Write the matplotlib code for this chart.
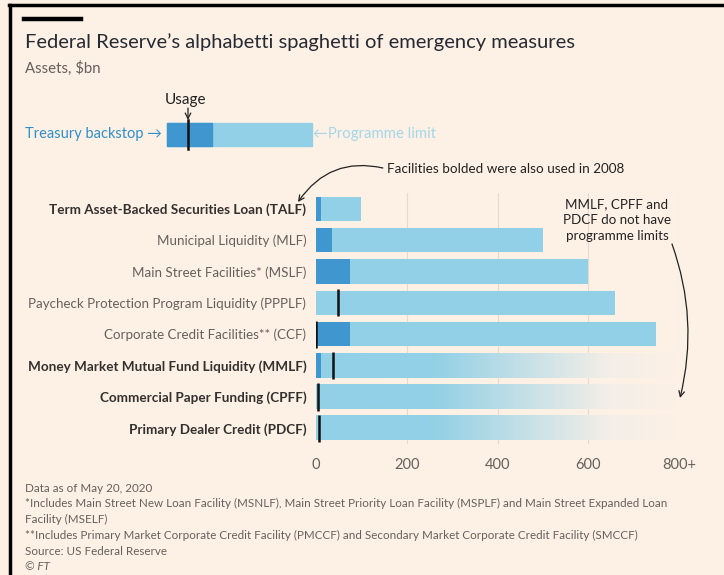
#!/usr/bin/env python3
"""FT-style chart: Fed emergency facilities, programme limit vs usage"""
import numpy as np
import matplotlib
matplotlib.use('Agg')
import matplotlib.pyplot as plt
from matplotlib.patches import Rectangle
from matplotlib.colors import LinearSegmentedColormap

# ---- data (Assets, $bn, as of May 20 2020) ----
facilities = ['Term Asset-Backed Securities Loan (TALF)', 'Municipal Liquidity (MLF)',
              'Main Street Facilities* (MSLF)', 'Paycheck Protection Program Liquidity (PPPLF)',
              'Corporate Credit Facilities** (CCF)', 'Money Market Mutual Fund Liquidity (MMLF)',
              'Commercial Paper Funding (CPFF)', 'Primary Dealer Credit (PDCF)']
used_2008 = [True, False, False, False, False, True, True, True]
prog_limit = [100, 500, 600, 659, 750, np.nan, np.nan, np.nan]   # nan = no limit
treasury_backstop = [10, 35, 75, 0, 75, 10, 0, 0]
usage = [np.nan, np.nan, np.nan, 49, 0.5, 37, 4, 7]
x_ticks = [0, 200, 400, 600, 800]
x_ticklabels = ['0', '200', '400', '600', '800+']

BG = '#fdf1e6'
LIGHT = '#92d0e7'
DARK = '#4097cf'
GREY = '#66605c'
BOLDC = '#33302e'
GRID = '#e6d9ce'
FONT = ['Lato', 'DejaVu Sans']
plt.rcParams['font.family'] = FONT

W, H = 724, 575
fig = plt.figure(figsize=(W / 100, H / 100), dpi=100, facecolor=BG)


def fx(x): return x / W
def fy(y): return 1 - y / H


# frame + FT bar
fig.add_artist(plt.Line2D([fx(10), fx(10)], [fy(5), 0], color='black', lw=2.5))
fig.add_artist(plt.Line2D([fx(9), 1], [fy(5), fy(5)], color='black', lw=2.5))
fig.add_artist(plt.Line2D([fx(24), fx(81)], [fy(18.5), fy(18.5)], color='black', lw=3.2))

fig.text(fx(25), fy(42), 'Federal Reserve\u2019s alphabetti spaghetti of emergency measures',
         fontsize=14.5, color='#262a33', va='center')
fig.text(fx(25), fy(68), 'Assets, $bn', fontsize=10.8, color=GREY, va='center')

# ---- main axes ----
n = len(facilities)
ax = fig.add_axes([fx(316), fy(444), fx(679) - fx(316), (444 - 193) / H])
ax.set_facecolor('none')
for s in ax.spines.values():
    s.set_visible(False)
for t in x_ticks[1:]:
    ax.axvline(t, color=GRID, lw=0.8, zorder=0)

bh = 0.77
fade = LinearSegmentedColormap.from_list('fade', [LIGHT, BG])
gx = np.linspace(0, 800, 400)
grad = np.interp(gx, [0, 260, 640, 800], [0, 0, 0.9, 1.0])[None, :]
for i in range(n):
    lim = prog_limit[i]
    if np.isnan(lim):
        ax.imshow(grad, cmap=fade, vmin=0, vmax=1, aspect='auto', interpolation='bilinear',
                  extent=(0, 800, i + bh / 2, i - bh / 2), zorder=1)
    else:
        ax.barh(i, lim, height=bh, color=LIGHT, zorder=1)
    if treasury_backstop[i] > 0:
        ax.barh(i, treasury_backstop[i], height=bh, color=DARK, zorder=2)
    if not np.isnan(usage[i]):
        ax.plot([usage[i], usage[i]], [i - bh / 2 - 0.05, i + bh / 2 + 0.05],
                color='#111111', lw=1.8, zorder=3, solid_capstyle='butt')
ax.set_xlim(0, 800)
ax.set_ylim(n - 0.5, -0.5)

ax.set_yticks(range(n))
ax.set_yticklabels(facilities)
for lab, b in zip(ax.get_yticklabels(), used_2008):
    lab.set_color(BOLDC if b else GREY)
    lab.set_fontweight('bold' if b else 'normal')
    lab.set_fontsize(9.7 if b else 9.6)
ax.set_xticks(x_ticks)
ax.set_xticklabels(x_ticklabels, fontsize=10.5, color=GREY)
ax.tick_params(length=0)
ax.tick_params(axis='x', pad=10)
ax.tick_params(axis='y', pad=7)

# ---- key ----
kx0, kx1, ky0, ky1 = 167, 312, 123, 146
fig.add_artist(Rectangle((fx(kx0), fy(ky1)), fx(kx1 - kx0), (ky1 - ky0) / H, color=LIGHT))
fig.add_artist(Rectangle((fx(kx0), fy(ky1)), fx(212 - kx0), (ky1 - ky0) / H, color=DARK))
fig.add_artist(plt.Line2D([fx(188), fx(188)], [fy(149), fy(120)], color='#111111', lw=1.8))
fig.text(fx(162), fy(134.5), 'Treasury backstop \u2192', fontsize=10.5, color='#2f8fcc',
         ha='right', va='center')
fig.text(fx(313), fy(134.5), '\u2190Programme limit', fontsize=10.7, color='#a5d6ea',
         ha='left', va='center')
fig.text(fx(186), fy(100), 'Usage', fontsize=11, color='#222222', ha='center', va='center')
ax.annotate('', xy=(188, H - 120), xytext=(188, H - 108), xycoords='figure pixels',
            textcoords='figure pixels',
            arrowprops=dict(arrowstyle='->', color='#222222', lw=0.9, shrinkA=0, shrinkB=0))

# ---- annotations ----
ax.annotate('Facilities bolded were also used in 2008', xy=(298, H - 202), xytext=(387, H - 169),
            xycoords='figure pixels', textcoords='figure pixels', fontsize=9.7, color='#222222',
            va='center', ha='left',
            arrowprops=dict(arrowstyle='->', color='#222222', lw=0.9, shrinkA=1, shrinkB=0,
                            relpos=(0, 0.5), connectionstyle='arc3,rad=0.35'))
fig.text(fx(617), fy(220), 'MMLF, CPFF and\nPDCF do not have\nprogramme limits', fontsize=9.6,
         color='#222222', ha='center', va='center', linespacing=1.4)
ax.annotate('', xy=(680, H - 398), xytext=(672, H - 244), xycoords='figure pixels',
            textcoords='figure pixels',
            arrowprops=dict(arrowstyle='->', color='#222222', lw=0.9, shrinkA=0, shrinkB=0,
                            connectionstyle='arc3,rad=-0.15'))

# ---- footnotes ----
notes = ['Data as of May 20, 2020',
         '*Includes Main Street New Loan Facility (MSNLF), Main Street Priority Loan Facility (MSPLF) and Main Street Expanded Loan',
         'Facility (MSELF)',
         '**Includes Primary Market Corporate Credit Facility (PMCCF) and Secondary Market Corporate Credit Facility (SMCCF)',
         'Source: US Federal Reserve']
for k, s in enumerate(notes):
    fig.text(fx(25), fy(488 + 15.8 * k), s, fontsize=8.4, color=GREY, va='center')
fig.text(fx(25), fy(567), '\u00a9 FT', fontsize=8.4, color=GREY, va='center', style='italic')

fig.savefig('out.png', dpi=100, facecolor=BG)
